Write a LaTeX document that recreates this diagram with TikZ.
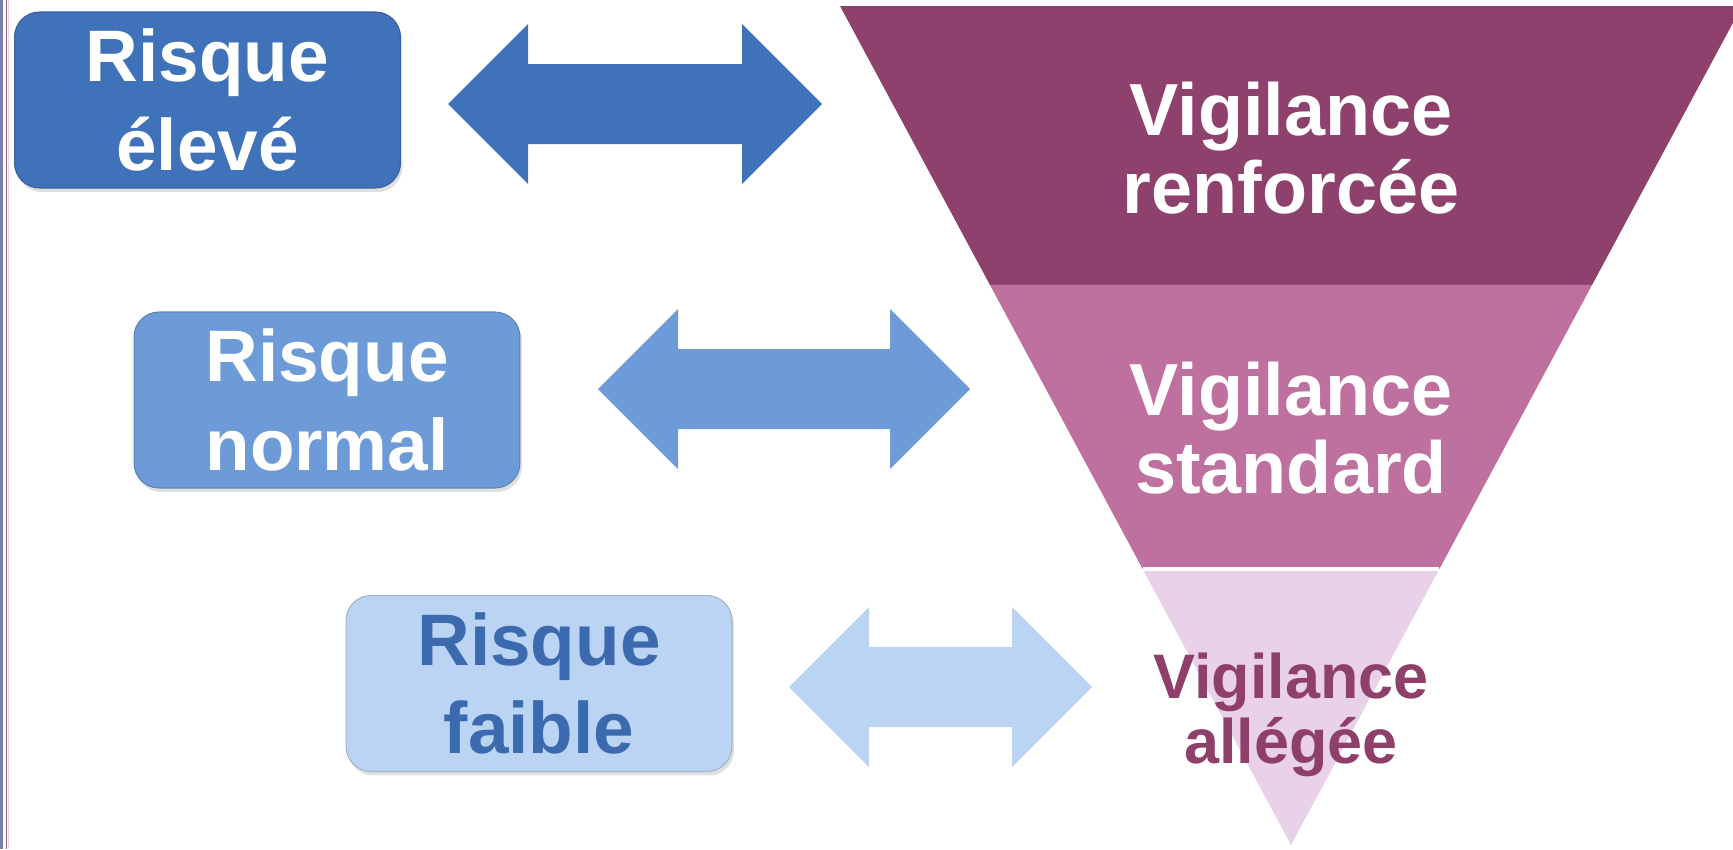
\documentclass[tikz,border=0pt]{standalone}
\usepackage{fontspec}
\setmainfont{Liberation Sans}
\usetikzlibrary{calc,shadows}

\definecolor{riskhigh}{RGB}{63,114,184}
\definecolor{risknorm}{RGB}{108,155,215}
\definecolor{risklow}{RGB}{188,212,243}
\definecolor{risklowtext}{RGB}{59,106,175}
\definecolor{vighigh}{RGB}{142,65,108}
\definecolor{vignorm}{RGB}{190,112,158}
\definecolor{viglow}{RGB}{234,209,234}
\definecolor{viglowtext}{RGB}{142,63,106}
\definecolor{edgeblue}{RGB}{122,130,178}

% double arrow: left tip x, right tip x, centre y, colour
\newcommand{\biarrow}[4]{%
    \fill[#4] (#1,#3) -- (#1+80,#3-80) -- (#1+80,#3-40) -- (#2-80,#3-40)
        -- (#2-80,#3-80) -- (#2,#3) -- (#2-80,#3+80) -- (#2-80,#3+40)
        -- (#1+80,#3+40) -- (#1+80,#3+80) -- cycle;
}

\tikzset{
    riskbox/.style={rounded corners=0.5cm, minimum width=7.72cm, minimum height=3.52cm,
        inner sep=0pt, align=center, draw=#1!85!black, line width=0.6pt, fill=#1,
        drop shadow={opacity=0.25, shadow xshift=0.04cm, shadow yshift=-0.08cm},
        font=\fontsize{41.5}{50.5}\selectfont\bfseries},
    vigtext/.style={align=center, inner sep=0pt,
        font=\fontsize{42}{44}\selectfont\bfseries}
}

\begin{document}
\begin{tikzpicture}[x=0.02cm, y=-0.02cm]
    \useasboundingbox (0,0) rectangle (1733,849);
    % left edge lines
    \fill[edgeblue] (0,0) rectangle (3,849);
    \draw[vighigh!80!white, line width=0.03cm] (6.5,0) -- (6.5,849);
    \draw[viglow, line width=0.03cm] (8.5,0) -- (8.5,849);

    % funnel
    \coordinate (tl) at (840,6);
    \coordinate (tr) at (1742,6);
    \coordinate (tip) at (1291,845);
    \coordinate (ml) at ($(tl)!0.3325!(tip)$);
    \coordinate (mr) at ($(tr)!0.3325!(tip)$);
    \coordinate (ll) at ($(tl)!0.671!(tip)$);
    \coordinate (lr) at ($(tr)!0.671!(tip)$);
    \fill[vighigh] (tl) -- (tr) -- (mr) -- (ml) -- cycle;
    \fill[vignorm] (ml) -- (mr) -- (lr) -- (ll) -- cycle;
    \fill[viglow] (ll) -- (lr) -- (tip) -- cycle;
    \draw[white, line width=0.08cm] (ll) -- (lr);

    \node[vigtext, text=white] (vig1) at (1291,148) {Vigilance\\renforcée};
    \node[vigtext, text=white] (vig2) at (1291,428) {Vigilance\\standard};
    \node[vigtext, text=viglowtext, font=\fontsize{35.8}{37}\selectfont\bfseries]
        (vig3) at (1291,715) {Vigilance\\allégée};

    % risk levels
    \node[riskbox=riskhigh, text=white] (risk1) at (207.5,100) {Risque\\élevé};
    \node[riskbox=risknorm, text=white] (risk2) at (327,400) {Risque\\normal};
    \node[riskbox=risklow, text=risklowtext] (risk3) at (539,683.5) {Risque\\faible};

    % arrows
    \biarrow{448}{822}{104}{riskhigh}
    \biarrow{598}{970}{389}{risknorm}
    \biarrow{789}{1092}{687}{risklow}
\end{tikzpicture}
\end{document}
